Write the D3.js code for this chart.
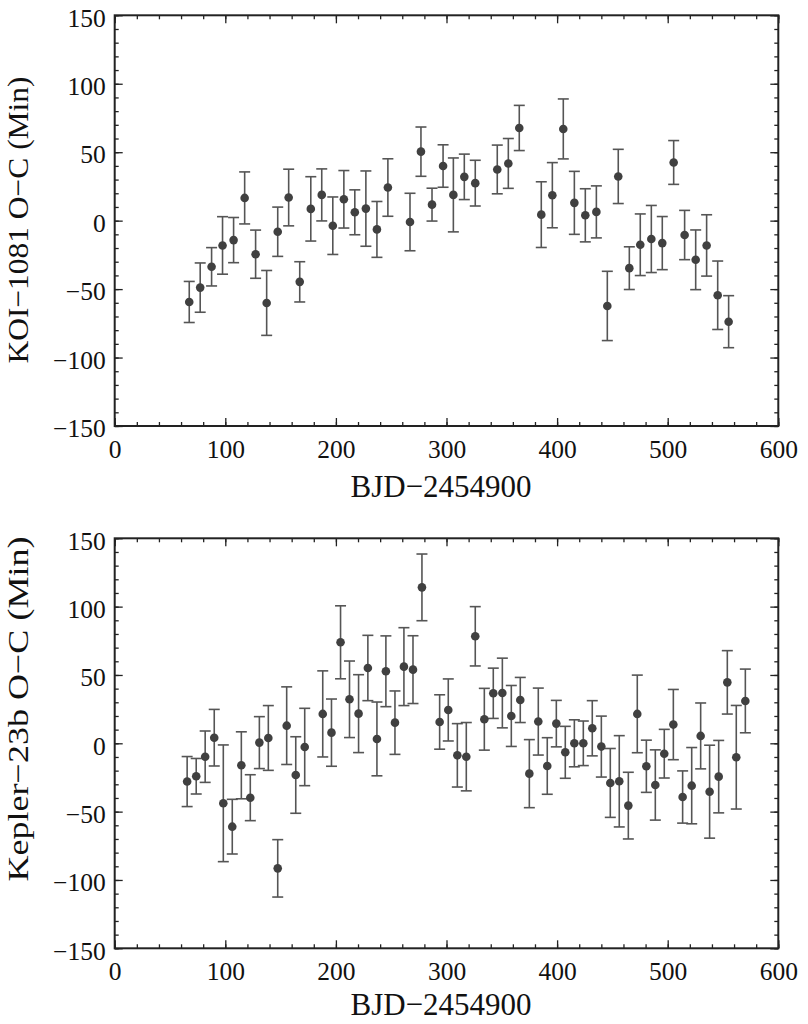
<!DOCTYPE html>
<meta charset="utf-8">
<style>
body { margin: 0; background: #fff; }
svg text { font-family: "Liberation Serif", "Times New Roman", Times, "DejaVu Serif", serif; fill: #111; }
.axis path.domain { display: none; }
.axis line { stroke: #222; stroke-width: 1.3; }
</style>
<script src="https://d3js.org/d3.v7.min.js"></script>
<body>
<div id="chart"></div>
<script>
// KOI-1081 transit timing residuals
var koiX = [67.4, 77.3, 87.6, 97.5, 107.5, 117.5, 127.4, 137.4, 147.4, 157.3,
  167.3, 177.3, 187.2, 197.2, 207.2, 217.1, 227.1, 237.1, 247.0, 267.0,
  276.9, 286.9, 296.9, 306.2, 316.1, 326.0, 345.9, 355.9, 365.8, 385.7,
  395.7, 405.6, 415.6, 425.5, 435.5, 445.4, 455.3, 465.3, 475.2, 485.2,
  495.1, 505.4, 515.3, 525.3, 535.2, 545.2, 555.1];
var koiY = [-59.4, -48.9, -33.7, -18.1, -14.2, 16.6, -24.5, -60.1, -8.1, 16.9,
  -44.7, 8.6, 18.8, -3.7, 15.6, 6.1, 8.8, -6.4, 24.2, -1.0,
  50.4, 11.7, 39.9, 18.8, 32.0, 27.4, 37.4, 41.8, 67.7, 4.4,
  18.6, 67.0, 13.0, 3.9, 6.4, -62.3, 32.3, -34.7, -17.6, -13.4,
  -16.4, 42.5, -10.5, -28.6, -18.1, -54.5, -73.8];
var koiErr = [15, 18, 14, 21, 16.5, 19, 17.6, 23.7, 18, 20.7,
  14.7, 23.5, 19, 21, 21, 16.4, 27.5, 20.4, 21, 21,
  18, 12, 15.5, 27, 16.6, 16.7, 17.8, 18.2, 16.5, 24,
  23.8, 21.9, 23, 19.4, 19, 25.3, 19.8, 15.6, 22.5, 24.5,
  19.4, 16, 18, 21.8, 22.4, 25, 19];

// Kepler-23b transit timing residuals
var kepX = [65.5, 73.7, 81.8, 90.0, 98.2, 106.3, 114.5, 122.6, 130.8, 138.9,
  147.4, 155.5, 163.7, 171.8, 188.1, 196.0, 204.2, 212.3, 220.5, 228.9,
  237.1, 245.2, 253.4, 261.5, 269.7, 277.8, 293.8, 301.6, 309.8, 317.9,
  326.0, 334.2, 342.3, 350.5, 358.6, 366.7, 374.9, 383.0, 391.1, 399.3,
  407.4, 415.6, 423.7, 431.8, 440.0, 448.1, 456.2, 464.4, 472.5, 480.7,
  488.8, 496.9, 505.1, 513.5, 521.7, 529.8, 537.9, 546.1, 553.9, 562.0, 570.2];
var kepY = [-28.0, -24.1, -9.8, 4.1, -43.9, -61, -16.1, -39.8, 0.5, 3.9,
  -91.5, 12.9, -23.2, -2.7, 21.5, 7.8, 73.9, 32.2, 21.7, 55.1,
  3.2, 52.7, 15.1, 56.1, 53.9, 114.1, 15.6, 24.4, -8.8, -9.8,
  78.3, 17.6, 36.6, 36.8, 20.0, 31.7, -22.2, 15.9, -16.6, 14.4,
  -6.6, 0, 0, 11.0, -2.4, -29.0, -27.8, -45.6, 21.5, -16.8,
  -30.5, -7.6, 13.7, -39.3, -31.0, 5.4, -35.4, -24.4, 44.6, -10.2, 31.0];
var kepErr = [18.3, 13, 18.8, 20.7, 42.7, 20, 24.5, 16.8, 19, 23.7,
  21, 28.4, 28, 28.3, 31.5, 24.6, 26.7, 28, 28.5, 23.9,
  27, 25.9, 23.2, 28.5, 24.8, 24.4, 19.9, 22.7, 23.2, 25,
  21.7, 22.6, 18.4, 25.5, 22.3, 16.5, 24.9, 24.5, 20.7, 17,
  19, 17.2, 16.3, 20.2, 22.3, 25.2, 33.4, 24.4, 28.4, 19.1,
  25.7, 17.8, 25.7, 19.1, 27.9, 24.1, 34, 26.5, 23.2, 37.9, 23.3];

var xMajor = [0, 100, 200, 300, 400, 500, 600];
var xMinor = d3.range(0, 601, 20);
var yMajor = [-150, -100, -50, 0, 50, 100, 150];
var yMinor = d3.range(-150, 151, 10);

var xTitle = "BJD\u22122454900";
var panels = [
  {xs: koiX, ys: koiY, es: koiErr, label: "KOI\u22121081 O\u2212C (Min)", top: 15.3, bottom: 426, titleY: 496.5, labelMid: 220, labelLen: 287},
  {xs: kepX, ys: kepY, es: kepErr, label: "Kepler\u221223b O\u2212C (Min)", top: 538.3, bottom: 948.3, titleY: 1015, labelMid: 709, labelLen: 345}
];

var W = 808, H = 1024, left = 114.7, right = 778.3;
var serif = "'Liberation Serif', 'Times New Roman', Times, 'DejaVu Serif', serif";
var minus = function(d) { return String(d).replace("-", "\u2212"); };

var svg = d3.select("#chart").append("svg")
  .attr("width", W).attr("height", H)
  .attr("font-family", serif);

var x = d3.scaleLinear().domain([0, 600]).range([left, right]);

panels.forEach(function(p) {
  var y = d3.scaleLinear().domain([-150, 150]).range([p.bottom, p.top]);
  var g = svg.append("g");
  var h = p.bottom - p.top, w = right - left;

  // minor ticks, pointing inward on all four sides
  g.append("g").attr("class", "axis").attr("transform", "translate(0," + p.bottom + ")")
    .call(d3.axisBottom(x).tickValues(xMinor).tickSize(-4).tickFormat(""));
  g.append("g").attr("class", "axis").attr("transform", "translate(0," + p.top + ")")
    .call(d3.axisTop(x).tickValues(xMinor).tickSize(-4).tickFormat(""));
  g.append("g").attr("class", "axis").attr("transform", "translate(" + left + ",0)")
    .call(d3.axisLeft(y).tickValues(yMinor).tickSize(-4).tickFormat(""));
  g.append("g").attr("class", "axis").attr("transform", "translate(" + right + ",0)")
    .call(d3.axisRight(y).tickValues(yMinor).tickSize(-4).tickFormat(""));

  // major ticks + labels
  var xb = g.append("g").attr("class", "axis").attr("transform", "translate(0," + p.bottom + ")")
    .call(d3.axisBottom(x).tickValues(xMajor).tickSize(-8).tickPadding(14).tickFormat(minus));
  xb.attr("font-family", serif).attr("font-size", 25.5);
  xb.selectAll("text").attr("fill", "#111");
  g.append("g").attr("class", "axis").attr("transform", "translate(0," + p.top + ")")
    .call(d3.axisTop(x).tickValues(xMajor).tickSize(-8).tickFormat(""));
  var yl = g.append("g").attr("class", "axis").attr("transform", "translate(" + left + ",0)")
    .call(d3.axisLeft(y).tickValues(yMajor).tickSize(-8).tickPadding(9).tickFormat(minus));
  yl.attr("font-family", serif).attr("font-size", 25.5);
  yl.selectAll("text").attr("fill", "#111").attr("dy", "0.42em");
  g.append("g").attr("class", "axis").attr("transform", "translate(" + right + ",0)")
    .call(d3.axisRight(y).tickValues(yMajor).tickSize(-8).tickFormat(""));

  // frame
  g.append("rect")
    .attr("x", left).attr("y", p.top).attr("width", w).attr("height", h)
    .attr("fill", "none").attr("stroke", "#222").attr("stroke-width", 2);

  var data = p.xs.map(function(v, i) { return {x: v, y: p.ys[i], e: p.es[i]}; });

  // error bars with caps
  var eb = g.append("g").attr("stroke", "#555").attr("stroke-width", 1.6);
  eb.selectAll(".v").data(data).enter().append("line")
    .attr("x1", function(d) { return x(d.x); }).attr("x2", function(d) { return x(d.x); })
    .attr("y1", function(d) { return y(d.y + d.e); }).attr("y2", function(d) { return y(d.y - d.e); });
  eb.selectAll(".t").data(data).enter().append("line")
    .attr("x1", function(d) { return x(d.x) - 5.5; }).attr("x2", function(d) { return x(d.x) + 5.5; })
    .attr("y1", function(d) { return y(d.y + d.e); }).attr("y2", function(d) { return y(d.y + d.e); });
  eb.selectAll(".b").data(data).enter().append("line")
    .attr("x1", function(d) { return x(d.x) - 5.5; }).attr("x2", function(d) { return x(d.x) + 5.5; })
    .attr("y1", function(d) { return y(d.y - d.e); }).attr("y2", function(d) { return y(d.y - d.e); });

  // points
  g.append("g").selectAll("circle").data(data).enter().append("circle")
    .attr("cx", function(d) { return x(d.x); })
    .attr("cy", function(d) { return y(d.y); })
    .attr("r", 4.3)
    .attr("fill", "#404040");

  // axis titles
  g.append("text")
    .attr("x", 441).attr("y", p.titleY)
    .attr("text-anchor", "middle")
    .attr("textLength", 181).attr("lengthAdjust", "spacingAndGlyphs")
    .style("font-size", "32px")
    .text(xTitle);
  g.append("text")
    .attr("transform", "translate(28," + p.labelMid + ") rotate(-90)")
    .attr("text-anchor", "middle")
    .attr("textLength", p.labelLen).attr("lengthAdjust", "spacingAndGlyphs")
    .style("font-size", "30px")
    .text(p.label);
});
</script>
</body>
